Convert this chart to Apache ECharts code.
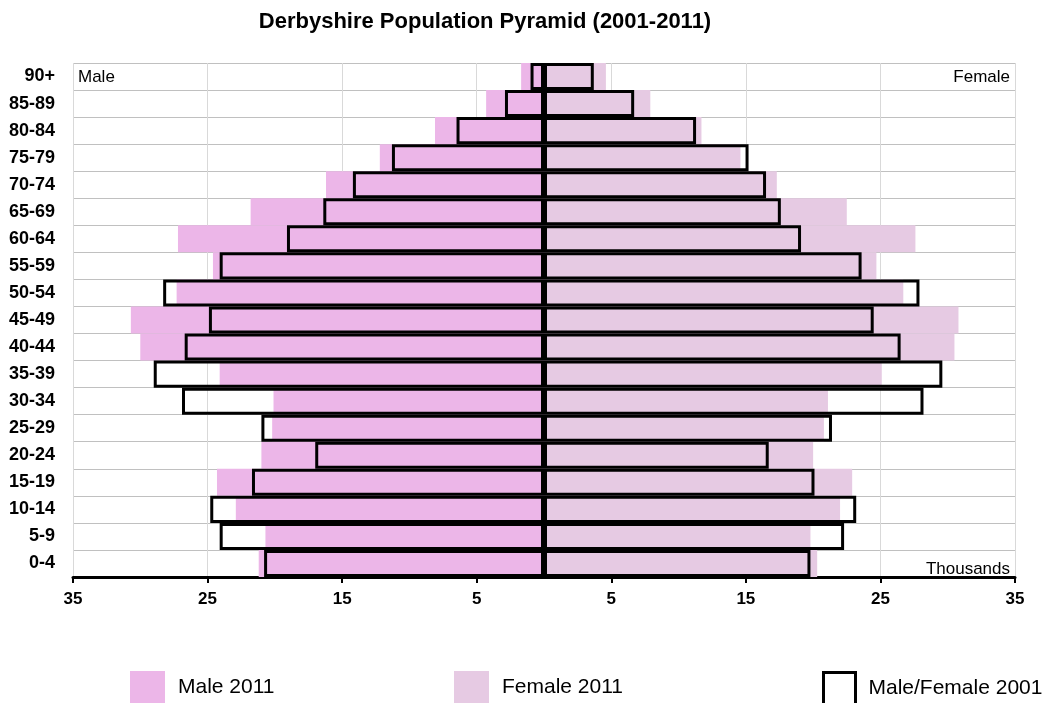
<!DOCTYPE html>
<html style="height: 100%">
<head>
<meta charset="utf-8">
</head>
<body style="height: 100%; margin: 0; background: #fff">
<div id="container" style="width: 1055px; height: 703px"></div>
<script type="text/javascript" src="https://cdn.jsdelivr.net/npm/echarts@6/dist/echarts.min.js"></script>
<script type="text/javascript">
// age bands, bottom to top
var ageBands = ['0-4', '5-9', '10-14', '15-19', '20-24', '25-29', '30-34', '35-39', '40-44', '45-49',
    '50-54', '55-59', '60-64', '65-69', '70-74', '75-79', '80-84', '85-89', '90+'];
// population in thousands
var male2011 = [21.2, 20.7, 22.9, 24.3, 21.0, 20.2, 20.1, 24.1, 30.0, 30.7, 27.3, 24.6, 27.2, 21.8, 16.2, 12.2, 8.1, 4.3, 1.7];
var male2001 = [20.8, 24.1, 24.8, 21.7, 17.0, 21.0, 26.9, 29.0, 26.7, 24.9, 28.3, 24.1, 19.1, 16.4, 14.2, 11.3, 6.5, 2.9, 1.0];
var female2011 = [20.3, 19.8, 22.0, 22.9, 20.0, 20.8, 21.1, 25.1, 30.5, 30.8, 26.7, 24.7, 27.6, 22.5, 17.3, 14.6, 11.7, 7.9, 4.6];
var female2001 = [19.8, 22.3, 23.2, 20.1, 16.7, 21.4, 28.2, 29.6, 26.5, 24.5, 27.9, 23.6, 19.1, 17.6, 16.5, 15.2, 11.3, 6.7, 3.7];

var FONT = '"Liberation Sans", Arial, sans-serif';
var maleColor = '#ECB6E8';
var femaleColor = '#E6CAE3';
var outlineStyle = { color: 'rgba(0,0,0,0)', borderColor: '#000', borderWidth: 3 };

function neg(arr) {
    return arr.map(function (v) { return -v; });
}

var myChart = echarts.init(document.getElementById('container'));

var legendBase = {
    orient: 'horizontal',
    top: 671,
    padding: 0,
    icon: 'rect',
    itemWidth: 35,
    itemHeight: 32,
    selectedMode: false,
    textStyle: { fontFamily: FONT, fontSize: 21, color: '#000', padding: [8, 0, 0, 8] }
};

var option = {
    backgroundColor: '#fff',
    animation: false,
    grid: { left: 73, right: 40, top: 63, bottom: 126 },
    legend: [
        Object.assign({}, legendBase, { left: 130, data: ['Male 2011'] }),
        Object.assign({}, legendBase, { left: 454, data: ['Female 2011'] }),
        Object.assign({}, legendBase, {
            left: 822,
            itemWidth: 32,
            data: [{ name: 'Male/Female 2001', itemStyle: outlineStyle }]
        })
    ],
    graphic: [
        {
            type: 'text', x: 485, y: 22,
            style: {
                text: 'Derbyshire Population Pyramid (2001-2011)',
                font: 'bold 22px ' + FONT, fill: '#000',
                align: 'center', verticalAlign: 'middle'
            }
        },
        {
            type: 'text', left: 78, top: 69,
            style: { text: 'Male', font: '17px ' + FONT, fill: '#000' }
        },
        {
            type: 'text', right: 45, top: 69,
            style: { text: 'Female', font: '17px ' + FONT, fill: '#000' }
        },
        {
            type: 'text', right: 45, top: 561, z: 20,
            style: { text: 'Thousands', font: '17px ' + FONT, fill: '#000' }
        }
    ],
    xAxis: {
        type: 'value',
        min: -35,
        max: 35,
        interval: 10,
        axisLine: { show: true, lineStyle: { color: '#000', width: 3 } },
        axisTick: { show: true, length: 6, lineStyle: { color: '#000', width: 2 } },
        axisLabel: {
            margin: 14,
            fontFamily: FONT, fontSize: 17, fontWeight: 'bold', color: '#000',
            formatter: function (v) { return Math.abs(v); }
        },
        splitLine: { show: true, lineStyle: { color: '#d9d9d9', width: 1 } }
    },
    yAxis: {
        type: 'category',
        data: ageBands,
        axisLine: { show: false },
        axisTick: { show: false },
        axisLabel: { margin: 18, fontFamily: FONT, fontSize: 18, fontWeight: 'bold', color: '#000' },
        splitLine: { show: true, lineStyle: { color: '#c0c0c0', width: 1 } }
    },
    series: [
        {
            name: 'Male 2011', type: 'bar', data: neg(male2011),
            barGap: '-100%', barCategoryGap: '0%',
            itemStyle: { color: maleColor }
        },
        {
            name: 'Female 2011', type: 'bar', data: female2011,
            barGap: '-100%', barCategoryGap: '0%',
            itemStyle: { color: femaleColor }
        },
        {
            name: 'Male/Female 2001', type: 'bar', data: neg(male2001),
            barGap: '-100%', barCategoryGap: '0%', z: 3,
            itemStyle: outlineStyle
        },
        {
            name: 'Male/Female 2001', type: 'bar', data: female2001,
            barGap: '-100%', barCategoryGap: '0%', z: 3,
            itemStyle: outlineStyle
        }
    ]
};

myChart.setOption(option);
</script>
</body>
</html>
